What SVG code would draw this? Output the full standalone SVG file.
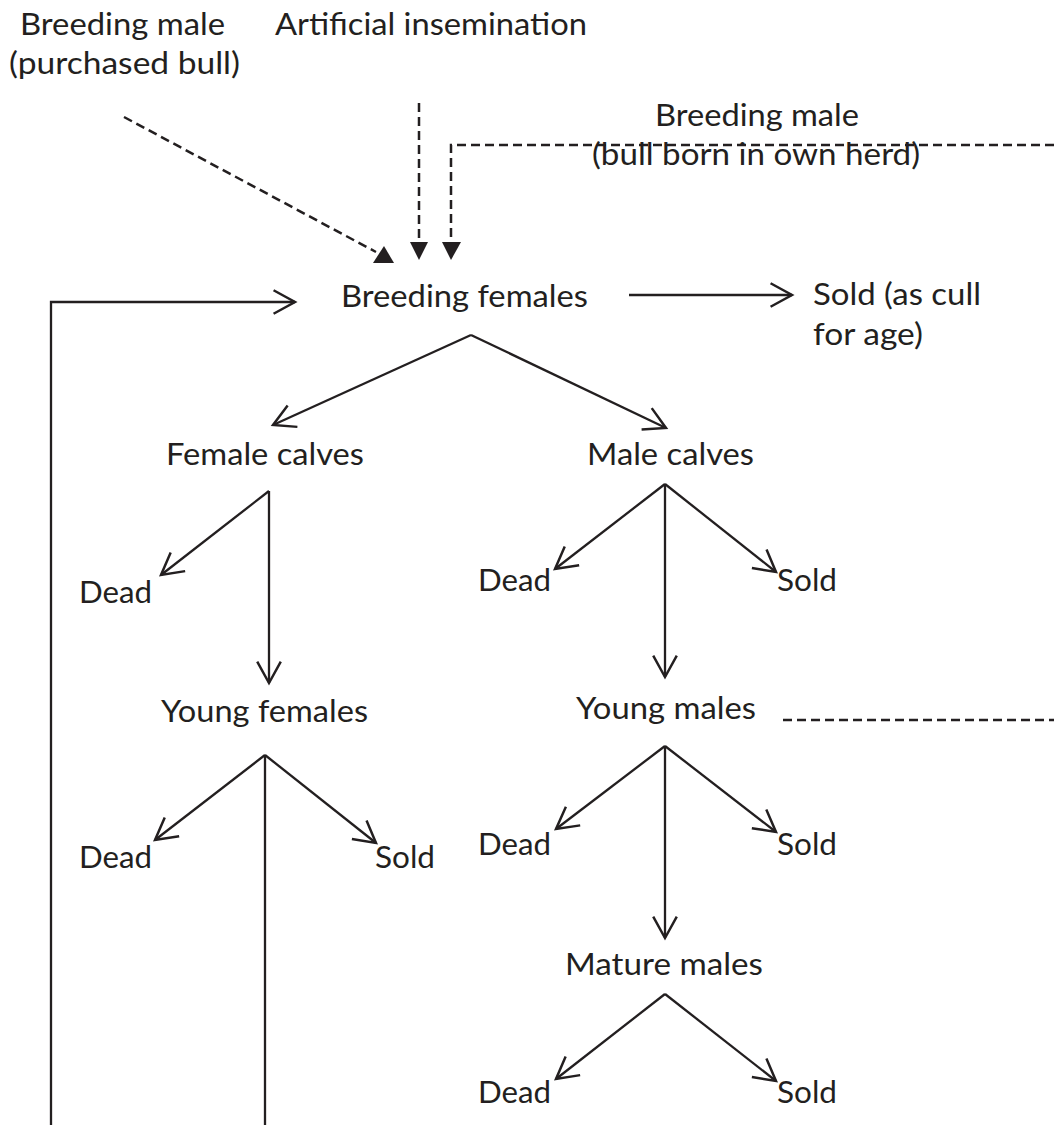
<svg xmlns="http://www.w3.org/2000/svg" width="1054" height="1125" viewBox="0 0 1054 1125">
<style>
text { font-family: Lato, "Open Sans", "Liberation Sans", sans-serif; font-size: 31.5px; fill: #231f20; }
.ln { fill: none; stroke: #231f20; stroke-width: 2.3; }
.arr { marker-end: url(#open); }
.dash { fill: none; stroke: #231f20; stroke-width: 2.5; stroke-dasharray: 9 5; }
.tri { fill: #231f20; }
</style>
<defs>
<marker id="open" markerUnits="userSpaceOnUse" markerWidth="30" markerHeight="30" viewBox="-24 -14 28 28" refX="0" refY="0" orient="auto" overflow="visible">
<path d="M-20,-11 L0,0 L-20,11" fill="none" stroke="#231f20" stroke-width="2.3"/>
</marker>
</defs>
<rect width="1054" height="1125" fill="#ffffff"/>

<g id="connectors">
<polyline class="ln arr" points="51,1125 51,302 295,302"/>
<line class="ln" x1="265" y1="755" x2="265" y2="1125"/>
<line class="ln arr" x1="471" y1="335" x2="273" y2="425"/>
<line class="ln arr" x1="471" y1="335" x2="666" y2="428"/>
<line class="ln arr" x1="629" y1="295" x2="792" y2="295"/>
<line class="ln arr" x1="269" y1="491" x2="161" y2="575"/>
<line class="ln arr" x1="269" y1="491" x2="269" y2="683"/>
<line class="ln arr" x1="265" y1="755" x2="155" y2="840"/>
<line class="ln arr" x1="265" y1="755" x2="376" y2="843"/>
<line class="ln arr" x1="665" y1="484" x2="555" y2="569"/>
<line class="ln arr" x1="665" y1="484" x2="776" y2="572"/>
<line class="ln arr" x1="665" y1="484" x2="665" y2="677"/>
<line class="ln arr" x1="665" y1="746" x2="556" y2="829"/>
<line class="ln arr" x1="665" y1="746" x2="776" y2="832"/>
<line class="ln arr" x1="665" y1="746" x2="665" y2="938"/>
<line class="ln arr" x1="665" y1="994" x2="556" y2="1079"/>
<line class="ln arr" x1="665" y1="994" x2="776" y2="1081"/>
<line class="dash" x1="124" y1="117" x2="376" y2="252"/>
<polygon class="tri" points="373,263 394,263 384,246"/>
<line class="dash" x1="419" y1="103" x2="419" y2="244"/>
<polygon class="tri" points="410,242 428,242 419,260"/>
<polyline class="dash" points="1054,145 451,145 451,244"/>
<polygon class="tri" points="442,242 461,242 451,260"/>
<line class="dash" x1="783" y1="720" x2="1054" y2="720"/>
</g>

<g id="purchased-bull">
<text x="20" y="35" textLength="205" lengthAdjust="spacingAndGlyphs">Breeding male</text>
<text x="9" y="74" textLength="231" lengthAdjust="spacingAndGlyphs">(purchased bull)</text>
</g>
<g id="artificial-insemination">
<text x="275" y="35" textLength="312" lengthAdjust="spacingAndGlyphs">Artificial insemination</text>
</g>
<g id="own-bull">
<text x="655" y="126" textLength="204" lengthAdjust="spacingAndGlyphs">Breeding male</text>
<text x="592" y="165" textLength="328" lengthAdjust="spacingAndGlyphs">(bull born in own herd)</text>
</g>
<g id="breeding-females">
<text x="341" y="307" textLength="247" lengthAdjust="spacingAndGlyphs">Breeding females</text>
</g>
<g id="sold-cull">
<text x="813" y="305" textLength="168" lengthAdjust="spacingAndGlyphs">Sold (as cull</text>
<text x="813" y="345" textLength="110" lengthAdjust="spacingAndGlyphs">for age)</text>
</g>
<g id="female-calves">
<text x="166" y="465" textLength="198" lengthAdjust="spacingAndGlyphs">Female calves</text>
</g>
<g id="male-calves">
<text x="587" y="465" textLength="167" lengthAdjust="spacingAndGlyphs">Male calves</text>
</g>
<g id="dead-female-calves">
<text x="79" y="603" textLength="73" lengthAdjust="spacingAndGlyphs">Dead</text>
</g>
<g id="young-females">
<text x="161" y="722" textLength="207" lengthAdjust="spacingAndGlyphs">Young females</text>
</g>
<g id="dead-male-calves">
<text x="478" y="591" textLength="73" lengthAdjust="spacingAndGlyphs">Dead</text>
</g>
<g id="sold-male-calves">
<text x="777" y="591" textLength="60" lengthAdjust="spacingAndGlyphs">Sold</text>
</g>
<g id="young-males">
<text x="576" y="719" textLength="180" lengthAdjust="spacingAndGlyphs">Young males</text>
</g>
<g id="dead-young-females">
<text x="79" y="868" textLength="73" lengthAdjust="spacingAndGlyphs">Dead</text>
</g>
<g id="sold-young-females">
<text x="375" y="868" textLength="60" lengthAdjust="spacingAndGlyphs">Sold</text>
</g>
<g id="dead-young-males">
<text x="478" y="855" textLength="73" lengthAdjust="spacingAndGlyphs">Dead</text>
</g>
<g id="sold-young-males">
<text x="777" y="855" textLength="60" lengthAdjust="spacingAndGlyphs">Sold</text>
</g>
<g id="mature-males">
<text x="565" y="975" textLength="198" lengthAdjust="spacingAndGlyphs">Mature males</text>
</g>
<g id="dead-mature-males">
<text x="478" y="1103" textLength="73" lengthAdjust="spacingAndGlyphs">Dead</text>
</g>
<g id="sold-mature-males">
<text x="777" y="1103" textLength="60" lengthAdjust="spacingAndGlyphs">Sold</text>
</g>
</svg>
